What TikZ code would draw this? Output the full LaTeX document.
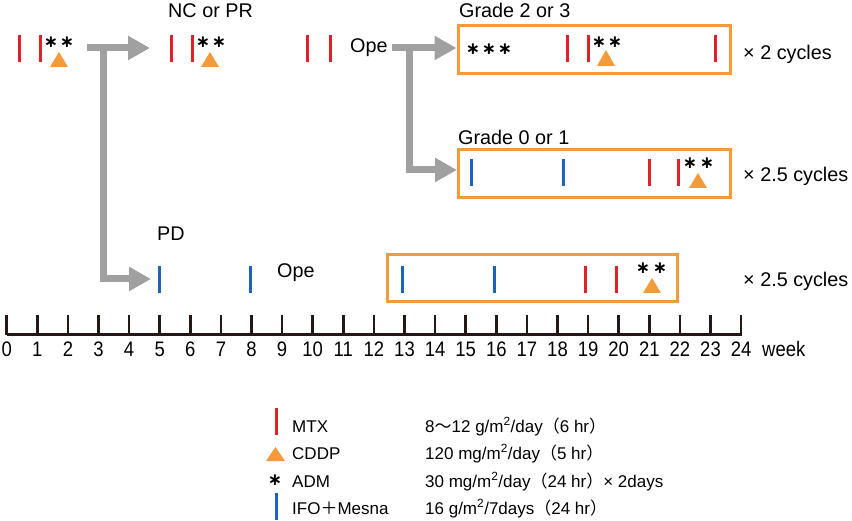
\documentclass[tikz,border=0pt]{standalone}
\usepackage{fontspec}
\setmainfont{Liberation Sans}
\newfontfamily\cjkf{Noto Sans CJK JP}
\newfontfamily\narrowf[FakeStretch=0.88]{Liberation Sans}
\newfontfamily\dejavuf{DejaVu Sans}
\usetikzlibrary{arrows.meta}
\definecolor{mtxred}{HTML}{E1202A}
\definecolor{ifoblue}{HTML}{1E64B4}
\definecolor{cddporange}{HTML}{F39A3B}
\definecolor{arrowgray}{HTML}{A0A0A0}
\definecolor{axisblack}{HTML}{231815}
\newcommand\mtxbar[2]{\draw[mtxline] (#1,#2-13.5) -- (#1,#2+13.5);}
\newcommand\ifobar[2]{\draw[ifoline] (#1,#2-13.5) -- (#1,#2+13.5);}
\newcommand\cddptri[3]{\fill[cddporange] (#1-9,#3) -- (#1+9,#3) -- (#1,#2) -- cycle;}
\newcommand\admast[2]{\node[ast] at (#1,#2) {∗};}
\begin{document}
\begin{tikzpicture}[x=1pt,y=-1pt,
  mtxline/.style={draw=mtxred,line width=3pt},
  ifoline/.style={draw=ifoblue,line width=3pt},
  ast/.style={inner sep=0pt,font=\dejavuf\bfseries\fontsize{17}{17}\selectfont},
  lab/.style={inner sep=0pt,anchor=base west,font=\fontsize{19.8}{20}\selectfont},
  leg/.style={inner sep=0pt,anchor=base west,font=\fontsize{17}{18}\selectfont},
  axlab/.style={inner sep=0pt,anchor=base,font=\narrowf\fontsize{21}{22}\selectfont},
  cyclebox/.style={draw=cddporange,line width=3pt,inner sep=0pt,fill=none},
  grayarrow/.style={draw=arrowgray,line width=7pt,line join=miter,
    -{Triangle[length=22pt,width=23pt]}},
  axisline/.style={draw=axisblack,line width=2.6pt}
]
\useasboundingbox (0,0) rectangle (852,521);
% boxes
\node[cyclebox,minimum width=272pt,minimum height=48pt] (box1) at (594,50) {};
\node[cyclebox,minimum width=272pt,minimum height=48pt] (box2) at (594,174) {};
\node[cyclebox,minimum width=290pt,minimum height=47pt] (box3) at (532,278.5) {};
% labels
\node[lab] (ncpr) at (168,17.5) {NC or PR};
\node[lab] (g23) at (459,17.5) {Grade 2 or 3};
\node[lab] (g01) at (458,144.5) {Grade 0 or 1};
\node[lab] (ope1) at (350,53) {Ope};
\node[lab] (pd) at (157,241) {PD};
\node[lab] (ope2) at (277,278) {Ope};
\node[lab] (cyc1) at (743,60) {× 2 cycles};
\node[lab] (cyc2) at (743,182) {× 2.5 cycles};
\node[lab] (cyc3) at (743,287) {× 2.5 cycles};
% arrows
\coordinate (s1) at (87,48);
\coordinate (e1) at (150,48);
\coordinate (b1) at (103.5,48);
\coordinate (e1b) at (151,279);
\coordinate (s2) at (392,48);
\coordinate (b2) at (409.5,48);
\coordinate (e2b) at (457,170);
\draw[grayarrow] (b1) |- (e1b);
\draw[grayarrow] (s1) -- (e1);
\draw[grayarrow] (b2) |- (e2b);
\draw[grayarrow] (s2) -- (s2 -| box1.west);
% top row
\mtxbar{19}{48.5} \mtxbar{40}{48.5}
\admast{51}{42} \admast{67}{42}
\cddptri{59}{52}{67}
\mtxbar{171}{48.5} \mtxbar{192}{48.5}
\admast{203}{42} \admast{219}{42}
\cddptri{210}{52}{67}
\mtxbar{307}{48.5} \mtxbar{330}{48.5}
% box 1
\admast{473}{49} \admast{489}{49} \admast{505}{49}
\mtxbar{567}{48.5} \mtxbar{588}{48.5}
\admast{599}{42} \admast{615}{42}
\cddptri{606}{50}{66}
\mtxbar{715}{48.5}
% box 2
\ifobar{471}{172.5} \ifobar{563}{172.5}
\mtxbar{649}{172.5} \mtxbar{678}{172.5}
\admast{690}{163} \admast{707}{163}
\cddptri{698}{173}{188}
% bottom row
\ifobar{159}{280} \ifobar{250}{280}
\ifobar{402}{280} \ifobar{494}{280}
\mtxbar{585}{280} \mtxbar{616}{280}
\admast{643}{268} \admast{660}{268}
\cddptri{652}{278}{293}
% axis
\draw[axisline] (6.7,334.3) -- (742.1,334.3);
\foreach \i in {0,...,24}{
  \draw[axisline] (6.7+30.6*\i,315) -- (6.7+30.6*\i,335.5);
  \node[axlab] at (6.7+30.6*\i,357) {\i};
}
\node[axlab,anchor=base west] (week) at (762,357) {week};
% legend
\mtxbar{276}{421.5}
\fill[cddporange] (266,461) -- (285,461) -- (275.5,447) -- cycle;
\admast{275}{480}
\ifobar{276}{506.5}
\node[leg] (lmtx) at (292,432) {MTX};
\node[leg] (lcddp) at (292,459) {CDDP};
\node[leg] (ladm) at (292,487) {ADM};
\node[leg] (lifo) at (292,514) {IFO{\cjkf ＋}Mesna};
\node[leg] (dmtx) at (425,432) {8{\cjkf ～}12 g/m\textsuperscript{2}/day{\cjkf （}6 hr{\cjkf ）}};
\node[leg] (dcddp) at (425,459) {120 mg/m\textsuperscript{2}/day{\cjkf （}5 hr{\cjkf ）}};
\node[leg] (dadm) at (425,487) {30 mg/m\textsuperscript{2}/day{\cjkf （}24 hr{\cjkf ）}× 2days};
\node[leg] (difo) at (425,514) {16 g/m\textsuperscript{2}/7days{\cjkf （}24 hr{\cjkf ）}};
\end{tikzpicture}
\end{document}
